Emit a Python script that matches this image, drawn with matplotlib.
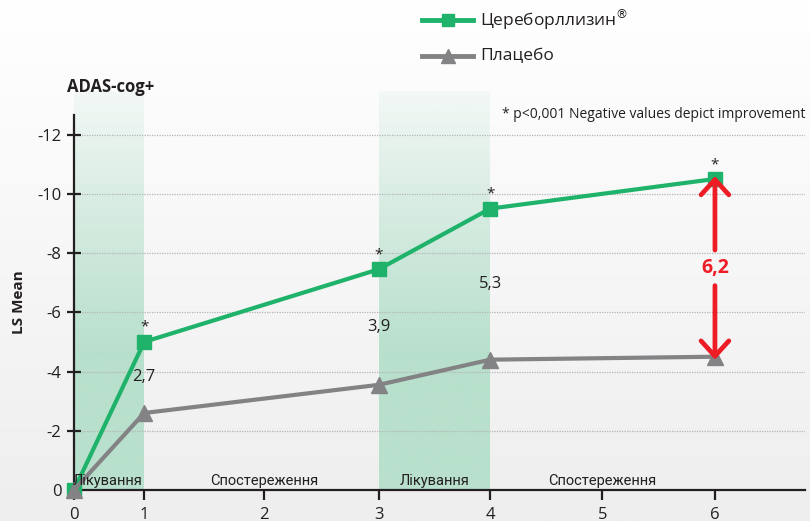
import numpy as np
import matplotlib
matplotlib.use("Agg")
from matplotlib import pyplot as plt
from matplotlib.lines import Line2D
from matplotlib.colors import LinearSegmentedColormap

# data
months = [0, 1, 3, 4, 6]
cerebro = [0, -5.0, -7.45, -9.5, -10.5]
placebo = [0, -2.6, -3.55, -4.4, -4.5]
diff_labels = ["2,7", "3,9", "5,3"]
diff_months = [1, 3, 4]
star_months = [1, 3, 4, 6]
final_diff = "6,2"
treat_periods = [(0, 1), (3, 4)]
phase_labels = ["Лікування", "Спостереження", "Лікування", "Спостереження"]
phase_centers = [0.48, 2.0, 3.5, 5.0]

# x axis in the source is not evenly spaced
tick_vals = [0, 1, 2, 3, 4, 5, 6, 7]
tick_pos = [0, 70.3, 190, 305, 416.7, 529, 641.7, 754.4]

GREEN = "#1fb26a"
GREY = "#838386"
RED = "#ee1c25"
SHADE = "#b8e0cc"

plt.rcParams['font.family'] = ['Open Sans', 'DejaVu Sans']
narrow = ['Roboto', 'DejaVu Sans']

fig = plt.figure(figsize=(8.10, 5.21), dpi=100)

# background gradient
bg = fig.add_axes([0, 0, 1, 1], zorder=-10)
bg.imshow(np.linspace(0, 1, 256).reshape(-1, 1), aspect='auto', extent=[0, 1, 0, 1],
          cmap=LinearSegmentedColormap.from_list("bg", ["#eeeeef", "#ffffff"]), origin='lower')
bg.axis('off')

ax = fig.add_axes([74/810, 1-490/521, (805-74)/810, (490-115)/521])
ax.patch.set_alpha(0)


def fwd(x):
    return np.interp(x, tick_vals, tick_pos)


def inv(p):
    return np.interp(p, tick_pos, tick_vals)


ax.set_xscale('function', functions=(fwd, inv))

# shaded treatment periods (gradient, spilling above the axes)
shade_cmap = LinearSegmentedColormap.from_list(
    "sh", [(0.72, 0.88, 0.80, 0.12), (0.72, 0.88, 0.80, 0.55), SHADE, SHADE])
for a, b in treat_periods:
    ax.imshow(np.linspace(0, 1, 256).reshape(-1, 1), aspect='auto',
              extent=[a, b, 0, -13.5], cmap=shade_cmap, origin='upper',
              clip_on=False, zorder=0, interpolation='bilinear')
ax.set_xlim(0, 6.8)
ax.set_ylim(0, -12.66)

for y in range(-12, 0, 2):
    ax.axhline(y, color="#b5b5b5", lw=0.9, ls=(0, (1, 1)), zorder=1)

ax.plot(months, cerebro, color=GREEN, lw=3, marker='s', ms=10, clip_on=False, zorder=4)
ax.plot(months, placebo, color=GREY, lw=3, marker='^', ms=11, clip_on=False, zorder=5)

for m, t in zip(diff_months, diff_labels):
    i = months.index(m)
    ax.text(m, (cerebro[i] + placebo[i]) / 2, t, ha='center', va='center',
            fontsize=12, color="#231f20", zorder=6)

for m in star_months:
    i = months.index(m)
    ax.annotate("*", (m, cerebro[i]), xytext=(0, 5), textcoords='offset points',
                ha='center', va='bottom', fontsize=11, color="#231f20", zorder=6)

# red double arrow with the final difference
ymid = (cerebro[-1] + placebo[-1]) / 2
ax.text(6, ymid, final_diff, color=RED, fontsize=14, fontweight='bold',
        ha='center', va='center', zorder=7)
arrow = dict(arrowstyle='->,head_length=1.1,head_width=1.0', color=RED, lw=3.4,
             shrinkA=0, shrinkB=0)
ax.annotate("", xy=(6, cerebro[-1] - 0.1), xytext=(6, ymid - 0.6), arrowprops=arrow, zorder=7)
ax.annotate("", xy=(6, placebo[-1] + 0.1), xytext=(6, ymid + 0.6), arrowprops=arrow, zorder=7)

# phase labels
for c, t in zip(phase_centers, phase_labels):
    ax.text(c, -0.3, t, ha='center', va='center', fontsize=10.5, family=narrow,
            color="#231f20", zorder=6)

ax.spines['top'].set_visible(False)
ax.spines['right'].set_visible(False)
for s in ('left', 'bottom'):
    ax.spines[s].set_linewidth(1.6)
    ax.spines[s].set_color("#231f20")
ax.set_xticks(range(0, 7))
ax.set_yticks(range(0, -13, -2))
ax.set_yticklabels([str(v) for v in range(0, -13, -2)])
ax.tick_params(axis='x', direction='out', length=7, width=1.6, color="#231f20",
               labelsize=12, pad=5, labelcolor="#231f20")
ax.tick_params(axis='y', direction='inout', length=10, width=1.6, color="#231f20",
               labelsize=12, pad=4, labelcolor="#231f20")
ax.minorticks_off()

ax.set_ylabel("LS Mean", fontsize=11, fontweight='bold', color="#231f20", labelpad=8)

fig.text(111/810, 1-87/521, "ADAS-cog+", fontsize=12, fontweight='bold', ha='center',
         va='center', color="#231f20")
fig.text(805/810, 1-115/521, "* p<0,001 Negative values depict improvement", fontsize=10,
         ha='right', va='center', color="#231f20")

# legend drawn by hand
leg = [(GREEN, 's', 9, "Цереборллизин$^{®}$", 20), (GREY, '^', 10, "Плацебо", 56)]
for col, mk, ms, lab, ypx in leg:
    yy = 1 - ypx/521
    fig.add_artist(Line2D([422/810, 473/810], [yy, yy], color=col, lw=3.5))
    fig.add_artist(Line2D([448/810], [yy], color=col, marker=mk, ms=ms))
    fig.text(480/810, yy, lab, fontsize=12.5, va='center', ha='left', color="#231f20")

fig.savefig("out.png", dpi=100)
